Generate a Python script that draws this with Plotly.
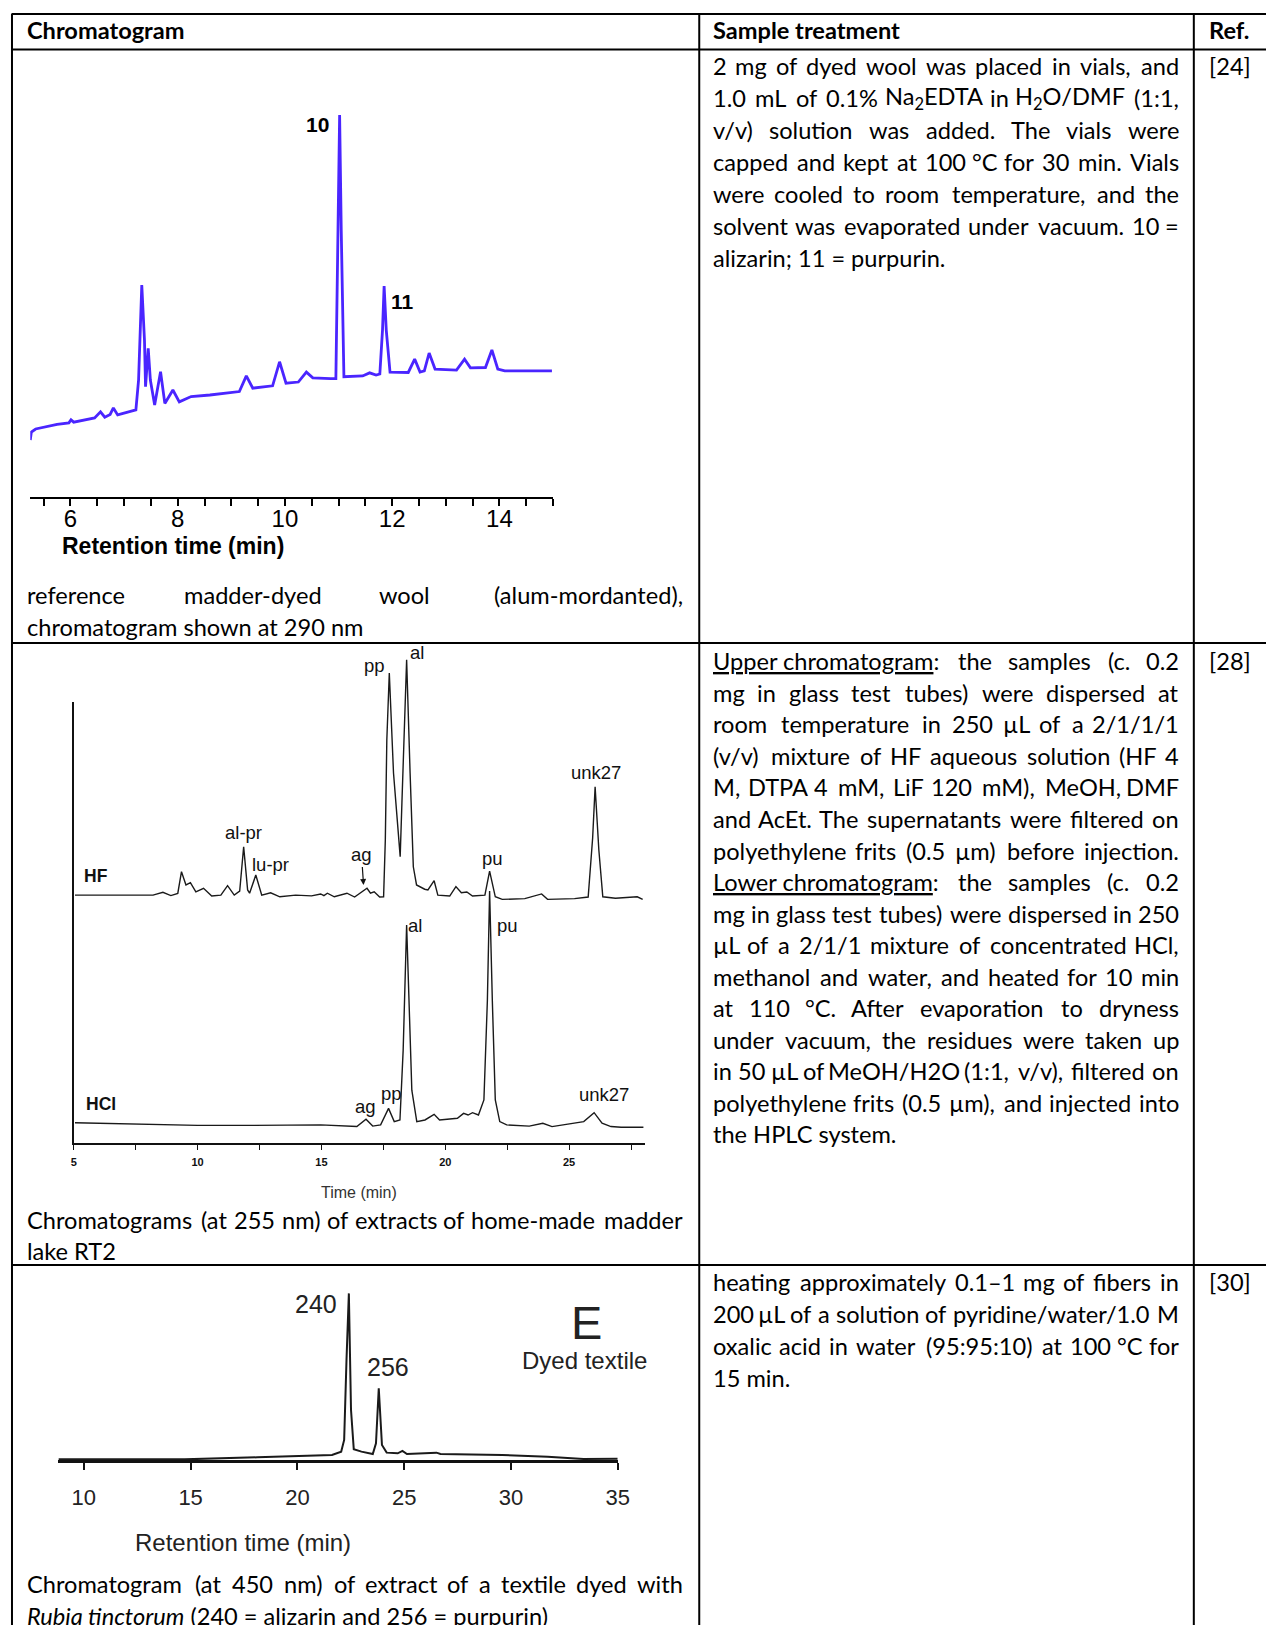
import re
import plotly.graph_objects as go

# page body keeps its default 8px margin, so the figure is placed 8px in
OX, OY = 8, 8
W, H = 1274 - OX, 1625 - OY


def fx(px):
    return (px - OX) / W


def fy(py):
    return 1 - (py - OY) / H


# ---------------- data ----------------
# Chart 1: madder-dyed wool, 290 nm (signal in % of alizarin peak)
c1_time = [5.25, 5.27, 5.35, 5.5, 5.75, 5.97, 6.01, 6.06, 6.3, 6.45, 6.56, 6.64, 6.74, 6.80, 6.88,
           7.05, 7.22, 7.27, 7.33, 7.38, 7.40, 7.45, 7.49, 7.57, 7.68, 7.76, 7.91, 8.03, 8.25, 8.6,
           9.15, 9.28, 9.4, 9.77, 9.9, 10.02, 10.25, 10.4, 10.52, 10.85, 10.95, 10.99, 11.02, 11.05,
           11.10, 11.45, 11.58, 11.7, 11.77, 11.82, 11.85, 11.89, 11.96, 12.3, 12.42, 12.52, 12.6,
           12.69, 12.8, 13.2, 13.35, 13.46, 13.74, 13.86, 13.97, 14.1, 14.5, 14.8, 14.98]
c1_signal = [14.9, 17.0, 17.8, 18.3, 19.0, 19.4, 20.2, 19.6, 20.2, 20.7, 22.3, 20.9, 21.6, 23.3, 21.5,
             22.1, 22.8, 30.6, 55.5, 41.1, 28.9, 38.9, 30.6, 24.1, 32.8, 24.5, 28.0, 24.9, 26.3, 26.7,
             27.6, 31.7, 28.5, 29.1, 35.4, 29.8, 30.1, 32.7, 31.2, 31.0, 31.0, 70.0, 100.0, 70.0,
             31.5, 31.7, 32.5, 31.9, 32.2, 43.7, 55.2, 43.7, 32.7, 32.6, 36.1, 32.7, 33.0,
             37.7, 33.5, 33.2, 36.1, 33.8, 33.9, 38.5, 33.5, 33.0, 33.0, 33.1, 33.0]
c1_ticks = [6, 8, 10, 12, 14]

# Chart 2: madder lake RT2, 255 nm
c2_time_hf = [5.05, 7.3, 8.2, 8.6, 8.92, 9.2, 9.35, 9.53, 9.71, 9.93, 10.24, 10.57, 10.94, 11.21, 11.48,
              11.7, 11.86, 12.02, 12.1, 12.35, 12.59, 12.95, 13.32, 13.96, 14.6, 14.97, 15.1, 15.24,
              15.52, 16.03, 16.34, 16.84, 16.98, 17.13, 17.35, 17.51, 17.58, 17.64, 17.74, 17.91,
              18.11, 18.18, 18.25, 18.35, 18.44, 18.58, 18.71, 18.84, 19.17, 19.3, 19.55, 19.7, 20.18,
              20.43, 20.65, 20.87, 21.1, 21.6, 21.79, 22.02, 22.3, 23.21, 23.89, 24.13, 25.22, 25.77,
              25.95, 26.05, 26.2, 26.36, 26.87, 27.75, 27.97]
c2_hf = [0.8, 0.8, 0.8, 2.0, 0.6, 1.5, 10.7, 5.1, 6.1, 2.2, 3.7, 0.4, 0.8, 4.8, 0.8,
         2.5, 21.3, 3.0, 1.6, 9.3, 0.8, 1.8, 0.1, 0.8, 0.5, 1.3, 0.6, 1.6,
         0.1, 1.6, 0.0, 3.7, 1.6, 2.2, 0.0, 0.1, 24.2, 66.5, 94.8, 52.5,
         24.2, 17.1, 40.0, 75.0, 100.4, 52.5, 12.8, 5.1, 3.3, 3.0, 6.9, 0.8, 0.4,
         4.4, 1.8, 2.1, 0.4, 0.8, 11.0, 0.1, -1.0, -0.7, 1.3, -1.0, -0.7, 0.0,
         25.0, 46.7, 20.0, 0.1, -0.5, 0.1, -1.0]
c2_time_hcl = [5.05, 6.18, 8.0, 10.0, 12.0, 14.97, 16.43, 16.8, 17.07, 17.39, 17.71, 17.94, 18.17,
               18.3, 18.44, 18.54, 18.65, 18.85, 19.18, 19.55, 19.77, 20.49, 20.74, 20.92, 21.1,
               21.34, 21.56, 21.7, 21.79, 21.9, 22.02, 22.2, 22.48, 23.39, 23.94, 24.31, 25.59,
               26.01, 26.33, 26.69, 27.1, 28.0]
c2_hcl = [2.2, 2.0, 1.5, 1.1, 1.1, 1.3, 0.6, 3.7, 0.8, 1.3, 8.3, 2.7, 3.4,
          33.0, 86.0, 54.0, 16.0, 2.7, 3.4, 5.8, 3.4, 4.1, 6.2, 5.5, 6.5,
          5.5, 11.9, 54.0, 100.4, 54.0, 11.9, 2.7, 1.3, 0.8, 2.0, 0.6, 2.7,
          6.5, 2.0, 0.6, 0.3, 0.3]

# Chart 3: textile dyed with Rubia tinctorum, 450 nm
c3_time = [8.81, 14.72, 18.12, 20.66, 21.62, 22.05, 22.19, 22.3, 22.41, 22.51, 22.64, 23.0, 23.53,
           23.68, 23.81, 23.96, 24.18, 24.7, 24.92, 25.13, 26.51, 26.7, 29.6, 31.72, 33.4, 35.0]
c3_signal = [0.4, 0.4, 1.6, 2.4, 3.0, 5.0, 12.0, 60.0, 99.6, 30.0, 6.4, 5.0, 3.6,
             10.0, 42.9, 9.0, 4.4, 4.0, 5.4, 3.6, 4.4, 3.6, 3.0, 2.0, 0.6, 0.8]

# ---------------- table text ----------------
headers = ["Chromatogram", "Sample treatment", "Ref."]
refs = ["[24]", "[28]", "[30]"]

row1_text = [
    "2 mg of dyed wool was placed in vials, and",
    "1.0 mL of 0.1% Na<sub>2</sub>EDTA in H<sub>2</sub>O/DMF (1:1,",
    "v/v) solution was added. The vials were",
    "capped and kept at 100 °C for 30 min. Vials",
    "were cooled to room temperature, and the",
    "solvent was evaporated under vacuum. 10 =",
    "alizarin; 11 = purpurin.",
]
row2_text = [
    "{Upper chromatogram}: the samples (c. 0.2",
    "mg in glass test tubes) were dispersed at",
    "room temperature in 250 µL of a 2/1/1/1",
    "(v/v) mixture of HF aqueous solution (HF 4",
    "M, DTPA 4 mM, LiF 120 mM), MeOH, DMF",
    "and AcEt. The supernatants were filtered on",
    "polyethylene frits (0.5 µm) before injection.",
    "{Lower chromatogram}: the samples (c. 0.2",
    "mg in glass test tubes) were dispersed in 250",
    "µL of a 2/1/1 mixture of concentrated HCl,",
    "methanol and water, and heated for 10 min",
    "at 110 °C. After evaporation to dryness",
    "under vacuum, the residues were taken up",
    "in 50 µL of MeOH/H2O (1:1, v/v), filtered on",
    "polyethylene frits (0.5 µm), and injected into",
    "the HPLC system.",
]
row3_text = [
    "heating approximately 0.1–1 mg of fibers in",
    "200 µL of a solution of pyridine/water/1.0 M",
    "oxalic acid in water (95:95:10) at 100 °C for",
    "15 min.",
]
cap1 = ["reference madder-dyed wool (alum-mordanted),", "chromatogram shown at 290 nm"]
cap2 = ["Chromatograms (at 255 nm) of extracts of home-made madder", "lake RT2"]
cap3 = ["Chromatogram (at 450 nm) of extract of a textile dyed with",
        "<i>Rubia tinctorum</i> (240 = alizarin and 256 = purpurin)"]

# ---------------- helpers ----------------
TF = "Lato, Carlito, sans-serif"
AF = "Liberation Sans, Arial, sans-serif"
FS = 23.6
CAL_SIZE = 25.7
K = 1.0

# approximate advance widths (per 1000 em) used to justify the paragraph lines
CAL = {' ': 226, '\u00a0': 226, ',': 250, '.': 252, ':': 268, ';': 268, '-': 306, '/': 400,
       '(': 303, ')': 303, '=': 510, '%': 715, '°': 342, 'µ': 585, '–': 498, '[': 307, ']': 307,
       'A': 579, 'B': 544, 'C': 533, 'D': 615, 'E': 488, 'F': 459, 'G': 631, 'H': 640, 'I': 252,
       'J': 319, 'K': 520, 'L': 420, 'M': 880, 'N': 646, 'O': 680, 'P': 517, 'Q': 673, 'R': 543,
       'S': 459, 'T': 487, 'U': 642, 'V': 567, 'W': 890, 'X': 519, 'Y': 487, 'Z': 468,
       'a': 479, 'b': 525, 'c': 423, 'd': 525, 'e': 498, 'f': 305, 'g': 471, 'h': 525, 'i': 229,
       'j': 239, 'k': 455, 'l': 229, 'm': 799, 'n': 525, 'o': 527, 'p': 525, 'q': 525, 'r': 349,
       's': 391, 't': 335, 'u': 525, 'v': 452, 'w': 715, 'x': 433, 'y': 453, 'z': 395}
for d in '0123456789':
    CAL[d] = 530


def est_width(tok):
    total, scale = 0.0, 1.0
    for part in re.split(r'(<[^>]+>)', tok):
        if part.startswith('<'):
            if part in ('<sub>', '<sup>'):
                scale = 0.7
            elif part in ('</sub>', '</sup>'):
                scale = 1.0
            continue
        for ch in part:
            if ch in '{}':
                continue
            total += CAL.get(ch, 500) * scale
    return total / 1000.0 * CAL_SIZE * K


annotations = []
shapes = []


def ann(text, x, y, xanchor='left', size=FS, family=TF, color='black', **kw):
    annotations.append(dict(text=text, x=fx(x), y=fy(y), xref='paper', yref='paper',
                            xanchor=xanchor, yanchor='middle', showarrow=False,
                            borderpad=0, borderwidth=0,
                            font=dict(family=family, size=size, color=color), **kw))


def to_html(w):
    return re.sub(r'\{([^}]*)\}', r'<span style="text-decoration:underline">\1</span>', w)


def add_line(text, y, left, right, justify):
    text = re.sub(r'\{([^}]*)\}', lambda m: '{' + m.group(1).replace(' ', '\u00a0') + '}', text)
    words = text.split(' ')
    if not justify or len(words) == 1:
        ann(to_html(' '.join(words)), left, y)
        return
    widths = [est_width(w) for w in words]
    gap = (right - left - sum(widths)) / (len(words) - 1)
    pos = left
    n = len(words)
    for i, (w, wd) in enumerate(zip(words, widths)):
        if i == 0:
            ann(to_html(w), left, y, 'left')
        elif i == n - 1:
            ann(to_html(w), right, y, 'right')
        else:
            ann(to_html(w), pos + wd / 2, y, 'center')
        pos += wd + gap


def add_para(lines, y0, dy, left, right, last_left=True):
    for i, t in enumerate(lines):
        just = not (last_left and i == len(lines) - 1)
        add_line(t, y0 + i * dy, left, right, just)


# table layout (pixels in the page)
L1, R1 = 24, 688
L2, R2 = 718, 1190
LR = 1220.5

ann("<b>" + headers[0] + "</b>", L1, 30.5)
ann("<b>" + headers[1] + "</b>", L2, 30.5)
ann("<b>" + headers[2] + "</b>", LR, 30.5)

add_para(row1_text, 66.2, 31.9, L2, R2)
add_para(row2_text, 661.2, 31.55, L2, R2)
add_para(row3_text, 1282.2, 31.9, L2, R2)
ann(refs[0], LR, 66.2)
ann(refs[1], LR, 661.2)
ann(refs[2], LR, 1282.2)

add_para(cap1, 594.5, 32.5, L1, R1)
add_para(cap2, 1219.5, 31.7, L1, R1)
add_line(cap3[0], 1583.5, L1, R1, True)
add_line(cap3[1], 1615.5, L1, R1, False)


# table rules
def hline(y, x0=8.5, x1=1290, w=2):
    shapes.append(dict(type='line', xref='paper', yref='paper', x0=fx(x0), x1=fx(x1),
                       y0=fy(y), y1=fy(y), line=dict(color='black', width=w)))


def vline(x, y0=14, y1=1640, w=2):
    shapes.append(dict(type='line', xref='paper', yref='paper', x0=fx(x), x1=fx(x),
                       y0=fy(y0), y1=fy(y1), line=dict(color='black', width=w)))


for yy in (14, 49.5, 643, 1265):
    hline(yy)
for xx in (9, 704.5, 1205):
    vline(xx)

# ---------------- charts ----------------
fig = go.Figure()
fig.add_trace(go.Scatter(x=c1_time, y=c1_signal, mode='lines', xaxis='x', yaxis='y',
                         line=dict(color='#4a25ff', width=2.8), hoverinfo='skip'))
fig.add_trace(go.Scatter(x=c2_time_hf, y=c2_hf, mode='lines', xaxis='x2', yaxis='y2',
                         line=dict(color='#1a1a1a', width=1.4), hoverinfo='skip'))
fig.add_trace(go.Scatter(x=c2_time_hcl, y=c2_hcl, mode='lines', xaxis='x2', yaxis='y3',
                         line=dict(color='#1a1a1a', width=1.4), hoverinfo='skip'))
fig.add_trace(go.Scatter(x=c3_time, y=c3_signal, mode='lines', xaxis='x3', yaxis='y4',
                         line=dict(color='#1a1a1a', width=2), hoverinfo='skip'))


def dlab(text, x, y, xr, yr, size, bold=False, color='#111', xanchor='center'):
    annotations.append(dict(text=("<b>%s</b>" % text) if bold else text, x=x, y=y, xref=xr, yref=yr,
                            xanchor=xanchor, yanchor='middle', showarrow=False,
                            font=dict(family=AF, size=size, color=color)))


dlab("10", 10.6, 97.6, 'x', 'y', 21, True, 'black')
dlab("11", 12.2, 51.3, 'x', 'y', 21, True, 'black')

LS = 18.5
dlab("pp", 17.15, 97.9, 'x2', 'y2', LS)
dlab("al", 18.85, 103.4, 'x2', 'y2', LS)
dlab("unk27", 26.09, 52.7, 'x2', 'y2', LS)
dlab("al-pr", 11.84, 27.2, 'x2', 'y2', LS)
dlab("lu-pr", 12.95, 13.9, 'x2', 'y2', LS)
dlab("pu", 21.89, 16.4, 'x2', 'y2', LS)
dlab("HF", 5.9, 8.9, 'x2', 'y2', 17.5, True)
annotations.append(dict(text="ag", x=16.70, y=5.1, xref='x2', yref='y2', showarrow=True,
                        ax=-2, ay=-30, arrowhead=2, arrowsize=1, arrowwidth=1.2, arrowcolor='#111',
                        standoff=0, font=dict(family=AF, size=LS, color='#111')))
dlab("al", 18.78, 86.0, 'x2', 'y3', LS)
dlab("pu", 22.51, 85.6, 'x2', 'y3', LS)
dlab("HCl", 6.11, 10.2, 'x2', 'y3', 17.5, True)
dlab("ag", 16.79, 9.3, 'x2', 'y3', LS)
dlab("pp", 17.81, 14.7, 'x2', 'y3', LS)
dlab("unk27", 26.41, 14.0, 'x2', 'y3', LS)

dlab("240", 20.85, 93.2, 'x3', 'y4', 25, False, '#222')
dlab("256", 24.25, 55.8, 'x3', 'y4', 25, False, '#222')
dlab("E", 33.52, 82.5, 'x3', 'y4', 47, False, '#222')
dlab("Dyed textile", 33.45, 59.4, 'x3', 'y4', 24, False, '#222')

# axis titles (placed like the original, not centred)
ann("<b>Retention time (min)</b>", 172, 546, 'center', 23, AF)
ann("Time (min)", 360, 1192, 'center', 16, AF, '#333')
ann("Retention time (min)", 243, 1542, 'center', 24, AF, '#222')

noax = dict(visible=False, showgrid=False, zeroline=False)
fig.update_layout(
    width=W, height=H, margin=dict(l=0, r=0, t=0, b=0),
    paper_bgcolor='white', plot_bgcolor='rgba(0,0,0,0)', showlegend=False,
    xaxis=dict(domain=[fx(27.5), fx(556.5)], range=[5.25, 15.0], anchor='y',
               showline=True, linecolor='black', linewidth=2, showgrid=False, zeroline=False,
               ticks='outside', ticklen=7, tickwidth=1.5, tickcolor='black',
               tickmode='array', tickvals=c1_ticks, ticktext=[str(v) for v in c1_ticks],
               ticklabelstandoff=-8,
               minor=dict(ticks='outside', tickmode='linear', tick0=5.5, dtick=0.5,
                          ticklen=7, tickwidth=1.5, tickcolor='black', showgrid=False),
               tickfont=dict(family=AF, size=24, color='black')),
    yaxis=dict(domain=[fy(497), fy(76.8)], range=[0, 110], anchor='x', **noax),
    xaxis2=dict(domain=[fx(71.5), fx(649.5)], range=[5, 28.06], anchor='y3',
                showline=True, linecolor='#111', linewidth=1.8, showgrid=False, zeroline=False,
                ticks='outside', ticklen=5, tickwidth=1.2, tickcolor='#111',
                tick0=5, dtick=5, ticklabelstandoff=3,
                minor=dict(ticks='outside', tick0=7.5, dtick=2.5, ticklen=5, tickwidth=1.2,
                           tickcolor='#111', showgrid=False),
                tickfont=dict(family=AF, size=11, color='#111', weight='bold')),
    yaxis2=dict(domain=[fy(904.1), fy(649)], range=[-3, 105], anchor='x2', **noax),
    yaxis3=dict(domain=[fy(1143), fy(702)], range=[-6.36, 180.5], anchor='x2',
                showline=True, linecolor='#111', linewidth=1.5, showticklabels=False,
                ticks='', showgrid=False, zeroline=False),
    xaxis3=dict(domain=[fx(56), fx(622)], range=[8.81, 35], anchor='y4',
                showline=True, linecolor='#111', linewidth=3, showgrid=False, zeroline=False,
                ticks='outside', ticklen=7, tickwidth=2, tickcolor='#111',
                tick0=10, dtick=5, ticklabelstandoff=9,
                tickfont=dict(family=AF, size=22, color='#222')),
    yaxis4=dict(domain=[fy(1460), fy(1276)], range=[0, 110], anchor='x3', **noax),
    annotations=annotations, shapes=shapes,
)

fig.write_html("out.html")
